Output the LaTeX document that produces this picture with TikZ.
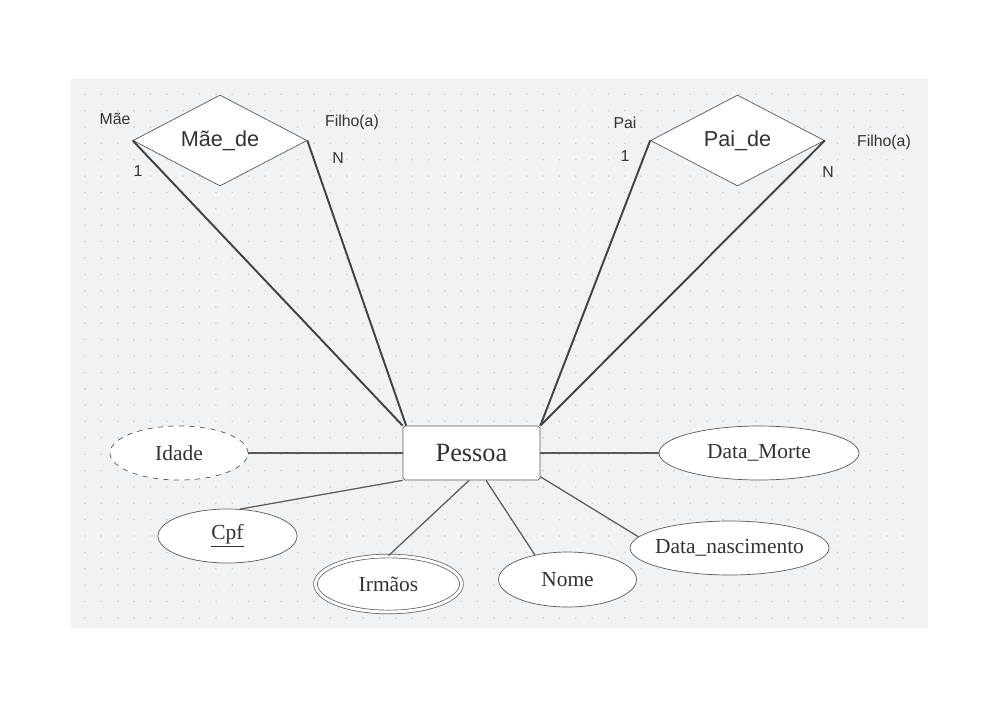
\documentclass[tikz,border=0pt]{standalone}
\usepackage{fontspec}
\setmainfont{Liberation Serif}
\setsansfont{Liberation Sans}
\usetikzlibrary{shapes.geometric}
\definecolor{bg}{HTML}{F1F2F4}
\definecolor{dotc}{HTML}{CDCFD3}
\definecolor{edge}{HTML}{595959}
\definecolor{txt}{HTML}{333333}

\begin{document}
\begin{tikzpicture}[x=0.02cm, y=-0.02cm,
    ent/.style = {draw=edge, fill=white, rounded corners=1pt, minimum width=2.74cm, minimum height=1.08cm, inner sep=0pt, font=\fontsize{15}{18}\selectfont, text=txt},
    rel/.style = {draw=edge, fill=white, diamond, aspect=2, minimum width=3.48cm, minimum height=1.82cm, inner sep=0pt, font=\sffamily\fontsize{12.3}{14}\selectfont, text=txt},
    attr/.style = {draw=edge, fill=white, ellipse, inner ysep=0pt, inner xsep=-3mm, minimum height=1.08cm, font=\fontsize{12.2}{14}\selectfont, text=txt},
    lbl/.style = {font=\sffamily\fontsize{9}{11}\selectfont, text=txt, inner sep=0pt},
    link/.style = {draw=edge, line width=0.7pt},
    rlink/.style = {draw=edge!75!black, line width=1.1pt}]
    \useasboundingbox (0,0) rectangle (1000,707);
    \fill[bg] (71,79) rectangle (928,628);
    \foreach \i in {0,...,50}
        \foreach \j in {0,...,32}
            \fill[dotc] (85+16.36*\i, 94.3+16.36*\j) circle (0.55pt);

    % entidade e relacionamentos
    \node[ent] (p) at (471.5,453) {Pessoa};
    \node[rel] (m_de) at (220,140.5) {Mãe\_de};
    \node[rel] (p_de) at (737.5,140.5) {Pai\_de};

    % atributos
    \node[attr, dashed, minimum width=2.76cm] (idade) at (179,453) {Idade};
    \node[attr, minimum width=2.78cm] (cpf) at (227.5,536) {\underline{Cpf}};
    \node[attr, double=white, double distance=1.7pt, minimum width=2.92cm, minimum height=1.12cm] (irmaos) at (388.5,584) {Irmãos};
    \node[attr, minimum width=2.76cm, minimum height=1.1cm] (nome) at (567.5,579.5) {Nome};
    \node[attr, minimum width=3.98cm] (d_nasc) at (729.5,548) {Data\_nascimento};
    \node[attr, minimum width=4.0cm] (d_morte) at (759,453) {Data\_Morte};

    % papeis e cardinalidades
    \node[lbl] (l_mae) at (115,119) {Mãe};
    \node[lbl] (c_mae) at (138,171) {1};
    \node[lbl] (l_filho1) at (352,122) {Filho(a)};
    \node[lbl] (c_filho1) at (338,158) {N};
    \node[lbl] (l_pai) at (625,123) {Pai};
    \node[lbl] (c_pai) at (625,156) {1};
    \node[lbl] (l_filho2) at (884,142) {Filho(a)};
    \node[lbl] (c_filho2) at (828,172) {N};

    \draw[rlink] (m_de.west) -- (p.north west);
    \draw[rlink] (m_de.east) -- ([xshift=2pt]p.north west);
    \draw[rlink] (p_de.west) -- (p.north east);
    \draw[rlink] (p_de.east) -- (p.north east);

    \draw[link] (idade.east) -- (p.west);
    \draw[link] (cpf.65) -- (p.south west);
    \draw[link] (irmaos.north) -- (p.-95);
    \draw[link] (nome.143) -- (p.-62);
    \draw[link] (d_nasc.173) -- (p.-19);
    \draw[link] (d_morte.west) -- (p.east);
\end{tikzpicture}
\end{document}
